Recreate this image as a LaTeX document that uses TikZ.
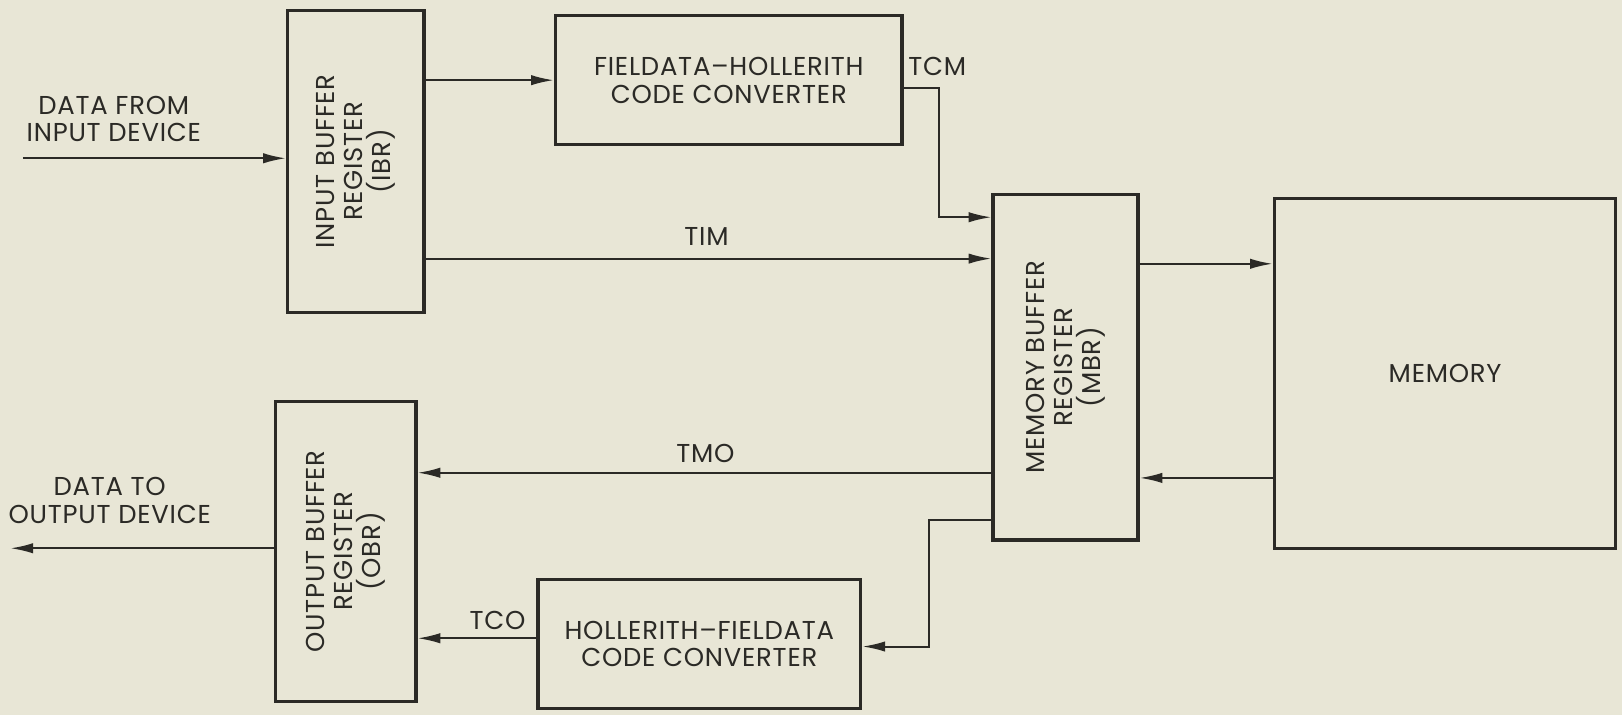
\documentclass[tikz,border=0pt]{standalone}
\usepackage{fontspec}
\setmainfont[LetterSpace=3]{Poppins}
\usetikzlibrary{arrows.meta}
\definecolor{paper}{HTML}{E8E6D6}
\definecolor{ink}{HTML}{2B2A26}
\begin{document}
\begin{tikzpicture}[x=1pt,y=-1pt,
  blk/.style={draw=ink, line width=3.2pt, inner sep=0pt},
  conn/.style={draw=ink, line width=2pt},
  arr/.style={conn, -{Latex[length=22pt,width=10pt]}},
  lbl/.style={text=ink, font=\fontsize{25}{27}\selectfont, align=center, inner sep=0pt}]
\fill[paper] (0,0) rectangle (1568,691);
\useasboundingbox (0,0) rectangle (1568,691);
% boxes
\node[blk, minimum width=132pt, minimum height=292pt] (IBR) at (344,156) {};
\node[blk, minimum width=335pt, minimum height=125pt] (FH) at (704.5,77.5) {};
\node[blk, minimum width=140pt, minimum height=334pt] (MBR) at (1030,355) {};
\node[blk, minimum width=330pt, minimum height=338pt] (MEM) at (1397,361) {};
\node[blk, minimum width=136pt, minimum height=290pt] (OBR) at (334,533) {};
\node[blk, minimum width=312pt, minimum height=125pt] (HF) at (676,622.5) {};
% box texts
\node[lbl, rotate=90] (tIBR) at (IBR.center) {INPUT BUFFER\\REGISTER\\(IBR)};
\node[lbl] (tFH) at (FH.center) {FIELDATA–HOLLERITH\\CODE CONVERTER};
\node[lbl, rotate=90] (tMBR) at (MBR.center) {MEMORY BUFFER\\REGISTER\\(MBR)};
\node[lbl] (tMEM) at (MEM.center) {MEMORY};
\node[lbl, rotate=90] (tOBR) at (OBR.center) {OUTPUT BUFFER\\REGISTER\\(OBR)};
\node[lbl] (tHF) at (HF.center) {HOLLERITH–FIELDATA\\CODE CONVERTER};
% free ends and routing points
\coordinate (inS) at (22,153);
\coordinate (outE) at (10,530);
\coordinate (tcmY) at (908,85);
\coordinate (tcmD) at (908,210);
\coordinate (timY) at (0,250);
\coordinate (memA) at (0,255);
\coordinate (memB) at (0,462);
\coordinate (tmoY) at (0,457);
\coordinate (hfA) at (898,503);
\coordinate (hfB) at (898,625);
\coordinate (tcoY) at (0,617);
% connectors
\draw[arr] (inS) -- (IBR.west |- inS);
\draw[arr] (IBR.east |- FH.west) -- (FH.west);
\draw[arr] (FH.east |- tcmY) -- (tcmY) -- (tcmD) -- (MBR.west |- tcmD);
\draw[arr] (IBR.east |- timY) -- (MBR.west |- timY);
\draw[arr] (MBR.east |- memA) -- (MEM.west |- memA);
\draw[arr] (MEM.west |- memB) -- (MBR.east |- memB);
\draw[arr] (MBR.west |- tmoY) -- (OBR.east |- tmoY);
\draw[arr] (OBR.west |- outE) -- (outE);
\draw[arr] (MBR.west |- hfA) -- (hfA) -- (hfB) -- (HF.east |- hfB);
\draw[arr] (HF.west |- tcoY) -- (OBR.east |- tcoY);
% labels
\node[lbl] (lin) at (110,115) {DATA FROM\\INPUT DEVICE};
\node[lbl] (lout) at (106,484) {DATA TO\\OUTPUT DEVICE};
\node[lbl, anchor=west] (ltcm) at (878,64) {TCM};
\node[lbl] (ltim) at (683,229) {TIM};
\node[lbl] (ltmo) at (682,438) {TMO};
\node[lbl] (ltco) at (481,600) {TCO};
\end{tikzpicture}
\end{document}
